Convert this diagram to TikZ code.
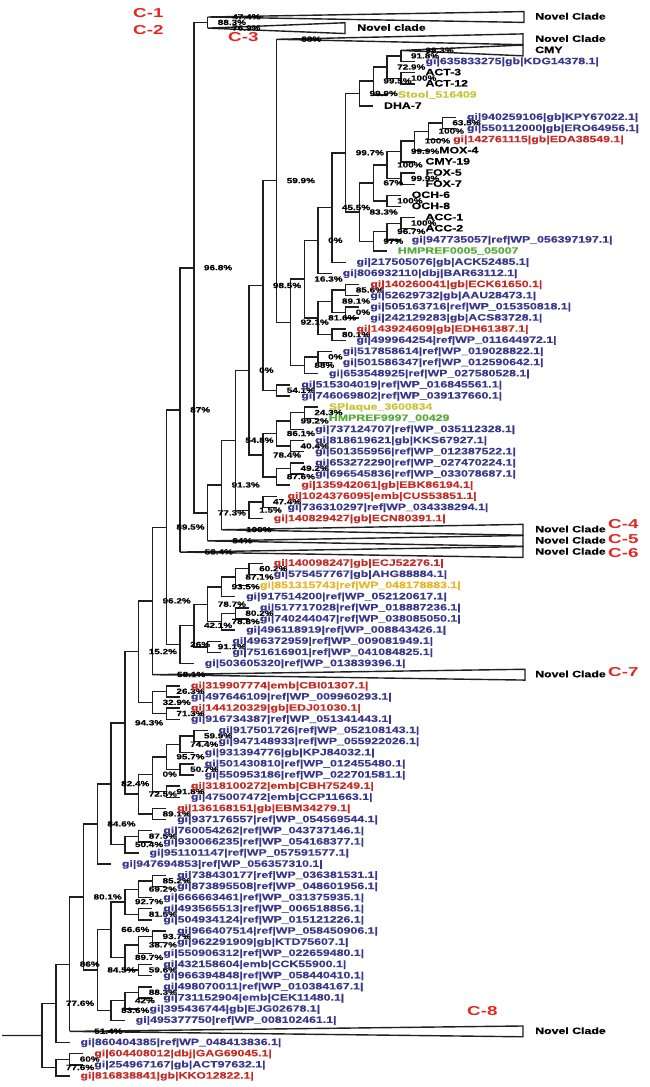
\documentclass[tikz,border=0pt]{standalone}
\usepackage{fontspec}
\newfontfamily\labfont[FakeStretch=1.33,FakeBold=0.5]{Liberation Sans}
\newfontfamily\cfont[FakeStretch=1.45]{Liberation Sans}
\definecolor{lb}{RGB}{58,56,140}
\definecolor{lr}{RGB}{196,45,40}
\definecolor{ly}{RGB}{200,196,60}
\definecolor{lo}{RGB}{232,182,45}
\definecolor{lg}{RGB}{85,172,60}
\definecolor{cr}{RGB}{228,38,34}
\pgfdeclarelayer{bg}
\pgfsetlayers{bg,main}
\tikzset{
  br/.style={line width=1.4bp, draw=black!88},
  lbase/.style={inner sep=0pt, font=\labfont\bfseries\fontsize{9.3}{10}\selectfont, text height=6.8bp, text depth=1.6bp},
  blu/.style={lbase,text=lb}, rd/.style={lbase,text=lr}, yel/.style={lbase,text=ly},
  org/.style={lbase,text=lo}, grn/.style={lbase,text=lg}, blk/.style={lbase,text=black},
  sup/.style={inner sep=0pt, font=\labfont\bfseries\fontsize{7.5}{8}\selectfont, text=black, text height=5.3bp, text depth=0.5bp},
  cl/.style={inner sep=0pt, font=\cfont\bfseries\fontsize{13}{14}\selectfont, text=cr},
}
\newcommand\inode[4]{%
  \pgfmathsetmacro\ny{17+(#3-1)*11.147}%
  \pgfmathsetmacro\nx{42+13.8*#2}%
  \coordinate (#1) at (\nx,\ny);
  \node[sup,anchor=west] (#1s) at ({\nx+10},\ny) {#4};}
\newcommand\edgeP[2]{\begin{pgfonlayer}{bg}\draw[br] (#1) |- (#2);\end{pgfonlayer}}
\newcommand\leaf[6]{%
  \pgfmathsetmacro\ly{17+(#4-1)*11.147}%
  \pgfmathsetmacro\lx{42+13.8*(#3+1)}%
  \pgfmathsetmacro\tx{42+13.8*#3+24.5}%
  \coordinate (#1) at (\lx,\ly);
  \node[#5,anchor=west] (#1t) at (\tx,\ly) {#6};
  \begin{pgfonlayer}{bg}\draw[br] (#2) |- (#1);\end{pgfonlayer}}
\newcommand\clade[8]{%
  \pgfmathsetmacro\cy{17+(#4-1)*11.147}%
  \pgfmathsetmacro\cx{42+13.8*#3}%
  \coordinate (#1) at (\cx,\cy);
  \coordinate (#1r) at (#5,\cy);
  \begin{pgfonlayer}{bg}
    \draw[br] (#2) |- (#1);
    \draw[br] (#1) -- ([yshift=5.4bp]#1r) -- ([yshift=-5.4bp]#1r) -- cycle;
  \end{pgfonlayer}
  \node[sup,anchor=west] (#1s) at ({\cx+24.5},\cy) {#6};
  \node[blk,anchor=west] (#1t) at (#7,\cy) {#8};}
\begin{document}
\begin{tikzpicture}[x=1bp,y=-1bp]
\useasboundingbox (0,0) rectangle (650,1087);
% ---------- internal nodes ----------
\inode{root}{0}{92.37}{}
\inode{nA1}{1}{89.49}{77.6\%}
\inode{nB1}{1}{95.25}{77.6\%}
\inode{nB2}{2}{94.5}{60\%}
\inode{nA2}{2}{85.98}{86\%}
\inode{nA3}{3}{79.95}{80.1\%}
\inode{nA4}{4}{73.4}{84.6\%}
\inode{nQ4}{4}{86.5}{84.5\%}
\inode{nQ5a}{5}{82.875}{66.6\%}
\inode{nQ5b}{5}{90.125}{83.6\%}
\inode{nQ6a}{6}{80.375}{92.7\%}
\inode{nQ6b}{6}{85.375}{89.7\%}
\inode{nQ6c}{6}{89.25}{42\%}
\inode{nQ7a}{7}{79.25}{69.2\%}
\inode{nQ7b}{7}{81.5}{81.5\%}
\inode{nQ7c}{7}{84.25}{38.7\%}
\inode{nQ7d}{7}{86.5}{59.6\%}
\inode{nQ7e}{7}{88.5}{88.3\%}
\inode{nQ8a}{8}{78.5}{85.2\%}
\inode{nQ8b}{8}{83.5}{93.7\%}
\inode{nA5}{5}{69.79}{82.4\%}
\inode{nA6}{6}{64.33}{94.3\%}
\inode{nP6}{6}{75.25}{50.4\%}
\inode{nP7}{7}{74.5}{87.5\%}
\inode{nA7}{7}{57.94}{15.2\%}
\inode{nO7}{7}{70.72}{72.5\%}
\inode{nO8a}{8}{68.94}{0\%}
\inode{nO8b}{8}{72.5}{89.1\%}
\inode{nO9a}{9}{67.375}{95.7\%}
\inode{nO9b}{9}{70.5}{91.8\%}
\inode{nO10a}{10}{66.25}{74.4\%}
\inode{nO10b}{10}{68.5}{50.7\%}
\inode{nO11}{11}{65.5}{59.9\%}
\inode{nA8}{8}{53.39}{96.2\%}
\inode{nN8}{8}{62.5}{32.9\%}
\inode{nN9a}{9}{61.5}{26.3\%}
\inode{nN9b}{9}{63.5}{71.3\%}
\inode{nA9}{9}{46.77}{89.5\%}
\inode{nM10}{10}{57.3}{26\%}
\inode{nM11}{11}{55.59}{42.1\%}
\inode{nM12a}{12}{53.69}{78.7\%}
\inode{nM12b}{12}{57.5}{91.1\%}
\inode{nM13a}{13}{52.125}{93.5\%}
\inode{nM13b}{13}{55.25}{78.8\%}
\inode{nM14a}{14}{51.25}{87.1\%}
\inode{nM14b}{14}{54.5}{80.2\%}
\inode{nM15}{15}{50.5}{60.2\%}
\inode{nA10}{10}{36.25}{87\%}
\inode{nA11}{11}{23.5}{96.8\%}
\inode{nC12}{12}{1.5}{88.3\%}
\inode{nA12}{12}{45.5}{77.3\%}
\inode{nA13}{13}{42.99}{91.3\%}
\inode{nA14}{14}{38.98}{54.8\%}
\inode{nA15}{15}{32.7}{0\%}
\inode{nL15}{15}{45.25}{1.5\%}
\inode{nL16}{16}{44.5}{47.4\%}
\inode{nA16}{16}{25.1}{98.5\%}
\inode{nK16}{16}{40.31}{78.4\%}
\inode{nK17a}{17}{38.375}{86.1\%}
\inode{nK17b}{17}{42.25}{87.6\%}
\inode{nK18a}{18}{37.25}{99.2\%}
\inode{nK18b}{18}{39.5}{40.4\%}
\inode{nK18c}{18}{41.5}{49.2\%}
\inode{nK19}{19}{36.5}{24.3\%}
\inode{nJ17}{17}{34.5}{54.1\%}
\inode{nA17}{17}{15.69}{59.9\%}
\inode{nA18}{18}{28.39}{92.1\%}
\inode{nA19}{19}{24.52}{16.3\%}
\inode{nI19}{19}{32.25}{88\%}
\inode{nI20}{20}{31.5}{0\%}
\inode{nA20}{20}{21.05}{0\%}
\inode{nH20}{20}{28}{81.6\%}
\inode{nH21a}{21}{26.5}{89.1\%}
\inode{nH21b}{21}{29.5}{80.1\%}
\inode{nH22a}{22}{25.5}{85.6\%}
\inode{nH22b}{22}{27.5}{0\%}
\inode{nA21}{21}{18.1}{45.5\%}
\inode{nA22}{22}{13.19}{99.7\%}
\inode{nU23}{23}{7.875}{99.9\%}
\inode{nU24}{24}{6.75}{99.5\%}
\inode{nU25}{25}{5.5}{72.9\%}
\inode{nU26a}{26}{4.5}{91.8\%}
\inode{nU26b}{26}{6.5}{100\%}
\inode{nV23}{23}{18.51}{83.3\%}
\inode{nV24a}{24}{15.89}{67\%}
\inode{nV24b}{24}{21.125}{97\%}
\inode{nV25a}{25}{14.28}{100\%}
\inode{nV25b}{25}{17.5}{100\%}
\inode{nV25c}{25}{20.25}{96.7\%}
\inode{nV26a}{26}{13.0625}{99.9\%}
\inode{nV26b}{26}{15.5}{99.9\%}
\inode{nV26c}{26}{19.5}{100\%}
\inode{nV27}{27}{12.125}{100\%}
\inode{nV28}{28}{11.25}{100\%}
\inode{nV29}{29}{10.5}{63.5\%}
% ---------- internal edges ----------
\coordinate (stem) at (2,1035.5);
\begin{pgfonlayer}{bg}\draw[br] (stem) -- (root);\end{pgfonlayer}
\edgeP{root}{nA1}\edgeP{root}{nB1}\edgeP{nB1}{nB2}
\edgeP{nA1}{nA2}\edgeP{nA2}{nA3}\edgeP{nA3}{nA4}\edgeP{nA3}{nQ4}
\edgeP{nQ4}{nQ5a}\edgeP{nQ4}{nQ5b}\edgeP{nQ5a}{nQ6a}\edgeP{nQ5a}{nQ6b}\edgeP{nQ5b}{nQ6c}
\edgeP{nQ6a}{nQ7a}\edgeP{nQ6a}{nQ7b}\edgeP{nQ6b}{nQ7c}\edgeP{nQ6b}{nQ7d}\edgeP{nQ6c}{nQ7e}
\edgeP{nQ7a}{nQ8a}\edgeP{nQ7c}{nQ8b}
\edgeP{nA4}{nA5}\edgeP{nA5}{nA6}\edgeP{nA5}{nP6}\edgeP{nP6}{nP7}
\edgeP{nA6}{nA7}\edgeP{nA6}{nO7}\edgeP{nO7}{nO8a}\edgeP{nO7}{nO8b}
\edgeP{nO8a}{nO9a}\edgeP{nO8a}{nO9b}\edgeP{nO9a}{nO10a}\edgeP{nO9a}{nO10b}\edgeP{nO10a}{nO11}
\edgeP{nA7}{nA8}\edgeP{nA7}{nN8}\edgeP{nN8}{nN9a}\edgeP{nN8}{nN9b}
\edgeP{nA8}{nA9}\edgeP{nA9}{nA10}\edgeP{nA9}{nM10}\edgeP{nM10}{nM11}
\edgeP{nM11}{nM12a}\edgeP{nM11}{nM12b}\edgeP{nM12a}{nM13a}\edgeP{nM12a}{nM13b}
\edgeP{nM13a}{nM14a}\edgeP{nM14a}{nM15}\edgeP{nM13b}{nM14b}
\edgeP{nA10}{nA11}\edgeP{nA11}{nC12}\edgeP{nA11}{nA12}\edgeP{nA12}{nA13}\edgeP{nA13}{nA14}
\edgeP{nA14}{nA15}\edgeP{nA14}{nL15}\edgeP{nL15}{nL16}
\edgeP{nA15}{nA16}\edgeP{nA15}{nK16}\edgeP{nK16}{nK17a}\edgeP{nK16}{nK17b}
\edgeP{nK17a}{nK18a}\edgeP{nK17a}{nK18b}\edgeP{nK18a}{nK19}\edgeP{nK17b}{nK18c}
\edgeP{nA16}{nA17}\edgeP{nA16}{nJ17}\edgeP{nA17}{nA18}\edgeP{nA18}{nA19}\edgeP{nA18}{nI19}\edgeP{nI19}{nI20}
\edgeP{nA19}{nA20}\edgeP{nA19}{nH20}\edgeP{nH20}{nH21a}\edgeP{nH20}{nH21b}
\edgeP{nH21a}{nH22a}\edgeP{nH21a}{nH22b}
\edgeP{nA20}{nA21}\edgeP{nA21}{nA22}\edgeP{nA22}{nU23}\edgeP{nA22}{nV23}
\edgeP{nU23}{nU24}\edgeP{nU24}{nU25}\edgeP{nU25}{nU26a}\edgeP{nU25}{nU26b}
\edgeP{nV23}{nV24a}\edgeP{nV23}{nV24b}\edgeP{nV24a}{nV25a}\edgeP{nV24a}{nV25b}\edgeP{nV24b}{nV25c}
\edgeP{nV25a}{nV26a}\edgeP{nV25a}{nV26b}\edgeP{nV25c}{nV26c}
\edgeP{nV26a}{nV27}\edgeP{nV27}{nV28}\edgeP{nV28}{nV29}
% ---------- collapsed clades ----------
\clade{cC1}{nC12}{12}{1}{524}{47.4\%}{535}{Novel Clade}
\clade{cC2}{nC12}{12}{2}{345}{76.9\%}{357}{Novel clade}
\clade{cC3}{nA17}{17}{3}{523}{88\%}{535}{Novel Clade}
\clade{cCMY}{nU26a}{26}{4}{523}{98.3\%}{535}{CMY}
\clade{cC4}{nA13}{13}{47}{523}{100\%}{535}{Novel Clade}
\clade{cC5}{nA12}{12}{48}{523}{84\%}{535}{Novel Clade}
\clade{cC6}{nA10}{10}{49}{523}{58.4\%}{535}{Novel Clade}
\clade{cC7}{nA8}{8}{60}{525}{58.1\%}{535}{Novel Clade}
\clade{cC8}{nA2}{2}{92}{523}{51.4\%}{535}{Novel Clade}
% ---------- leaves ----------
\leaf{l5}{nU26a}{26}{5}{blu}{gi|635833275|gb|KDG14378.1|}
\leaf{l6}{nU26b}{26}{6}{blk}{ACT-3}
\leaf{l7}{nU26b}{26}{7}{blk}{ACT-12}
\leaf{l8}{nU24}{24}{8}{yel}{Stool\_516409}
\leaf{l9}{nU23}{23}{9}{blk}{DHA-7}
\leaf{l10}{nV29}{29}{10}{blu}{gi|940259106|gb|KPY67022.1|}
\leaf{l11}{nV29}{29}{11}{blu}{gi|550112000|gb|ERO64956.1|}
\leaf{l12}{nV28}{28}{12}{rd}{gi|142761115|gb|EDA38549.1|}
\leaf{l13}{nV27}{27}{13}{blk}{MOX-4}
\leaf{l14}{nV26a}{26}{14}{blk}{CMY-19}
\leaf{l15}{nV26b}{26}{15}{blk}{FOX-5}
\leaf{l16}{nV26b}{26}{16}{blk}{FOX-7}
\leaf{l17}{nV25b}{25}{17}{blk}{OCH-6}
\leaf{l18}{nV25b}{25}{18}{blk}{OCH-8}
\leaf{l19}{nV26c}{26}{19}{blk}{ACC-1}
\leaf{l20}{nV26c}{26}{20}{blk}{ACC-2}
\leaf{l21}{nV25c}{25}{21}{blu}{gi|947735057|ref|WP\_056397197.1|}
\leaf{l22}{nV24b}{24}{22}{grn}{HMPREF0005\_05007}
\leaf{l23}{nA21}{21}{23}{blu}{gi|217505076|gb|ACK52485.1|}
\leaf{l24}{nA20}{20}{24}{blu}{gi|806932110|dbj|BAR63112.1|}
\leaf{l25}{nH22a}{22}{25}{rd}{gi|140260041|gb|ECK61650.1|}
\leaf{l26}{nH22a}{22}{26}{blu}{gi|52629732|gb|AAU28473.1|}
\leaf{l27}{nH22b}{22}{27}{blu}{gi|505163716|ref|WP\_015350818.1|}
\leaf{l28}{nH22b}{22}{28}{blu}{gi|242129283|gb|ACS83728.1|}
\leaf{l29}{nH21b}{21}{29}{rd}{gi|143924609|gb|EDH61387.1|}
\leaf{l30}{nH21b}{21}{30}{blu}{gi|499964254|ref|WP\_011644972.1|}
\leaf{l31}{nI20}{20}{31}{blu}{gi|517858614|ref|WP\_019028822.1|}
\leaf{l32}{nI20}{20}{32}{blu}{gi|501586347|ref|WP\_012590642.1|}
\leaf{l33}{nI19}{19}{33}{blu}{gi|653548925|ref|WP\_027580528.1|}
\leaf{l34}{nJ17}{17}{34}{blu}{gi|515304019|ref|WP\_016845561.1|}
\leaf{l35}{nJ17}{17}{35}{blu}{gi|746069802|ref|WP\_039137660.1|}
\leaf{l36}{nK19}{19}{36}{yel}{SPlaque\_3600834}
\leaf{l37}{nK19}{19}{37}{grn}{HMPREF9997\_00429}
\leaf{l38}{nK18a}{18}{38}{blu}{gi|737124707|ref|WP\_035112328.1|}
\leaf{l39}{nK18b}{18}{39}{blu}{gi|818619621|gb|KKS67927.1|}
\leaf{l40}{nK18b}{18}{40}{blu}{gi|501355956|ref|WP\_012387522.1|}
\leaf{l41}{nK18c}{18}{41}{blu}{gi|653272290|ref|WP\_027470224.1|}
\leaf{l42}{nK18c}{18}{42}{blu}{gi|696545836|ref|WP\_033078687.1|}
\leaf{l43}{nK17b}{17}{43}{rd}{gi|135942061|gb|EBK86194.1|}
\leaf{l44}{nL16}{16}{44}{rd}{gi|1024376095|emb|CUS53851.1|}
\leaf{l45}{nL16}{16}{45}{blu}{gi|736310297|ref|WP\_034338294.1|}
\leaf{l46}{nL15}{15}{46}{rd}{gi|140829427|gb|ECN80391.1|}
\leaf{l50}{nM15}{15}{50}{rd}{gi|140098247|gb|ECJ52276.1|}
\leaf{l51}{nM15}{15}{51}{blu}{gi|575457767|gb|AHG88884.1|}
\leaf{l52}{nM14a}{14}{52}{org}{gi|851315743|ref|WP\_048178883.1|}
\leaf{l53}{nM13a}{13}{53}{blu}{gi|917514200|ref|WP\_052120617.1|}
\leaf{l54}{nM14b}{14}{54}{blu}{gi|517717028|ref|WP\_018887236.1|}
\leaf{l55}{nM14b}{14}{55}{blu}{gi|740244047|ref|WP\_038085050.1|}
\leaf{l56}{nM13b}{13}{56}{blu}{gi|496118919|ref|WP\_008843426.1|}
\leaf{l57}{nM12b}{12}{57}{blu}{gi|496372959|ref|WP\_009081949.1|}
\leaf{l58}{nM12b}{12}{58}{blu}{gi|751616901|ref|WP\_041084825.1|}
\leaf{l59}{nM10}{10}{59}{blu}{gi|503605320|ref|WP\_013839396.1|}
\leaf{l61}{nN9a}{9}{61}{rd}{gi|319907774|emb|CBI01307.1|}
\leaf{l62}{nN9a}{9}{62}{blu}{gi|497646109|ref|WP\_009960293.1|}
\leaf{l63}{nN9b}{9}{63}{rd}{gi|144120329|gb|EDJ01030.1|}
\leaf{l64}{nN9b}{9}{64}{blu}{gi|916734387|ref|WP\_051341443.1|}
\leaf{l65}{nO11}{11}{65}{blu}{gi|917501726|ref|WP\_052108143.1|}
\leaf{l66}{nO11}{11}{66}{blu}{gi|947148933|ref|WP\_055922026.1|}
\leaf{l67}{nO10a}{10}{67}{blu}{gi|931394776|gb|KPJ84032.1|}
\leaf{l68}{nO10b}{10}{68}{blu}{gi|501430810|ref|WP\_012455480.1|}
\leaf{l69}{nO10b}{10}{69}{blu}{gi|550953186|ref|WP\_022701581.1|}
\leaf{l70}{nO9b}{9}{70}{rd}{gi|318100272|emb|CBH75249.1|}
\leaf{l71}{nO9b}{9}{71}{blu}{gi|475007472|emb|CCP11663.1|}
\leaf{l72}{nO8b}{8}{72}{rd}{gi|136168151|gb|EBM34279.1|}
\leaf{l73}{nO8b}{8}{73}{blu}{gi|937176557|ref|WP\_054569544.1|}
\leaf{l74}{nP7}{7}{74}{blu}{gi|760054262|ref|WP\_043737146.1|}
\leaf{l75}{nP7}{7}{75}{blu}{gi|930066235|ref|WP\_054168377.1|}
\leaf{l76}{nP6}{6}{76}{blu}{gi|951101147|ref|WP\_057591577.1|}
\leaf{l77}{nA4}{4}{77}{blu}{gi|947694853|ref|WP\_056357310.1|}
\leaf{l78}{nQ8a}{8}{78}{blu}{gi|738430177|ref|WP\_036381531.1|}
\leaf{l79}{nQ8a}{8}{79}{blu}{gi|873895508|ref|WP\_048601956.1|}
\leaf{l80}{nQ7a}{7}{80}{blu}{gi|666663461|ref|WP\_031375935.1|}
\leaf{l81}{nQ7b}{7}{81}{blu}{gi|493565513|ref|WP\_006518856.1|}
\leaf{l82}{nQ7b}{7}{82}{blu}{gi|504934124|ref|WP\_015121226.1|}
\leaf{l83}{nQ8b}{8}{83}{blu}{gi|966407514|ref|WP\_058450906.1|}
\leaf{l84}{nQ8b}{8}{84}{blu}{gi|962291909|gb|KTD75607.1|}
\leaf{l85}{nQ7c}{7}{85}{blu}{gi|550906312|ref|WP\_022659480.1|}
\leaf{l86}{nQ7d}{7}{86}{blu}{gi|432158604|emb|CCK55900.1|}
\leaf{l87}{nQ7d}{7}{87}{blu}{gi|966394848|ref|WP\_058440410.1|}
\leaf{l88}{nQ7e}{7}{88}{blu}{gi|498070011|ref|WP\_010384167.1|}
\leaf{l89}{nQ7e}{7}{89}{blu}{gi|731152904|emb|CEK11480.1|}
\leaf{l90}{nQ6c}{6}{90}{blu}{gi|395436744|gb|EJG02678.1|}
\leaf{l91}{nQ5b}{5}{91}{blu}{gi|495377750|ref|WP\_008102461.1|}
\leaf{l93}{nA1}{1}{93}{blu}{gi|860404385|ref|WP\_048413836.1|}
\leaf{l94}{nB2}{2}{94}{rd}{gi|604408012|dbj|GAG69045.1|}
\leaf{l95}{nB2}{2}{95}{blu}{gi|254967167|gb|ACT97632.1|}
\leaf{l96}{nB1}{1}{96}{rd}{gi|816838841|gb|KKO12822.1|}
% ---------- clade tags ----------
\node[cl,anchor=west] (t1) at (133,13) {C-1};
\node[cl,anchor=west] (t2) at (133,30) {C-2};
\node[cl,anchor=west] (t3) at (228,37) {C-3};
\node[cl,anchor=west] (t4) at (608,524) {C-4};
\node[cl,anchor=west] (t5) at (608,539) {C-5};
\node[cl,anchor=west] (t6) at (608,553) {C-6};
\node[cl,anchor=west] (t7) at (608,672) {C-7};
\node[cl,anchor=west] (t8) at (467,1011) {C-8};
\end{tikzpicture}
\end{document}
